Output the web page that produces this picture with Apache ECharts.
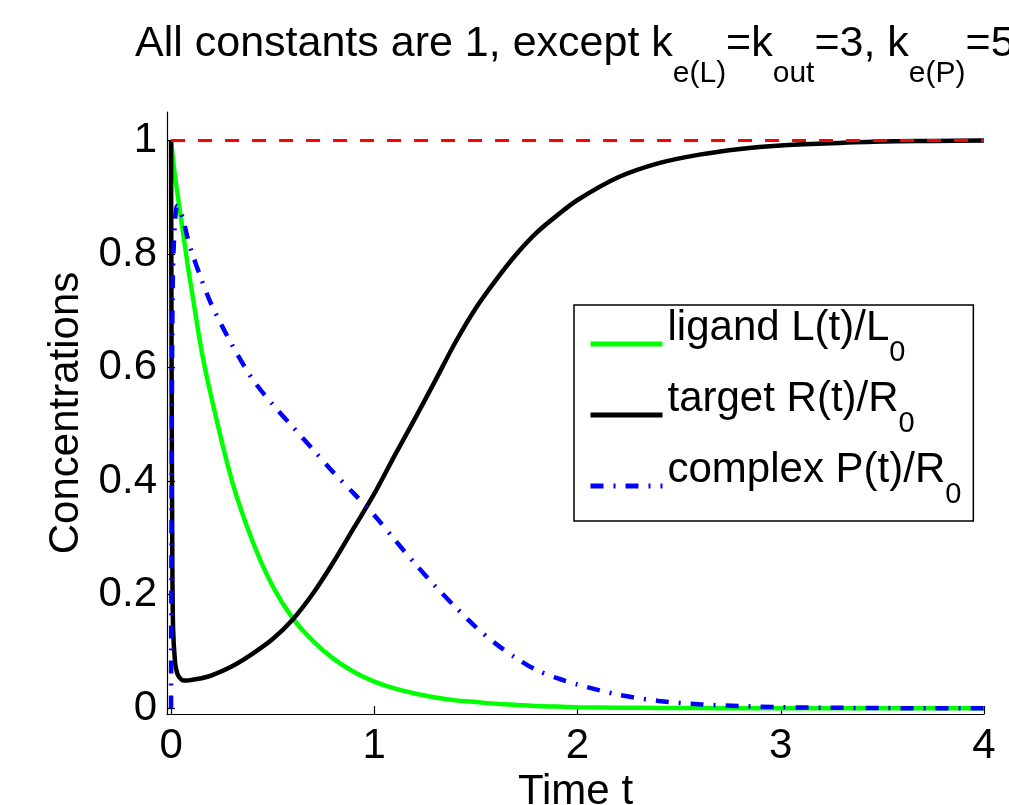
<!DOCTYPE html>
<html>
<head>
<meta charset="utf-8">
<script src="https://cdn.jsdelivr.net/npm/echarts@6/dist/echarts.min.js"></script>
<style>
  html, body { margin: 0; padding: 0; background: #fff; }
  #main { width: 1009px; height: 805px; }
</style>
</head>
<body>
<div id="main"></div>
<script>
// time points and curves
var tVals = [0, 0.003, 0.006, 0.01, 0.02, 0.03, 0.04, 0.06, 0.08, 0.1,
             0.15, 0.2, 0.3, 0.4, 0.5, 0.6, 0.7, 0.8, 0.9, 1.0,
             1.1, 1.2, 1.3, 1.4, 1.5, 1.6, 1.7, 1.8, 1.9, 2.0,
             2.2, 2.4, 2.6, 2.8, 3.0, 3.25, 3.5, 3.75, 4.0];
var ligand = [1, 0.99, 0.98, 0.965, 0.935, 0.91, 0.885, 0.835, 0.785, 0.74,
              0.63, 0.545, 0.40, 0.295, 0.215, 0.158, 0.118, 0.087, 0.064, 0.047,
              0.035, 0.026, 0.019, 0.014, 0.011, 0.008, 0.006, 0.004, 0.003, 0.002,
              0.001, 0.0007, 0.0004, 0.0002, 0.0001, 0, 0, 0, 0];
var target = [1, 0.55, 0.28, 0.14, 0.08, 0.062, 0.055, 0.049, 0.049, 0.05,
              0.053, 0.058, 0.074, 0.096, 0.122, 0.157, 0.203, 0.258, 0.318, 0.378,
              0.445, 0.51, 0.577, 0.645, 0.705, 0.755, 0.8, 0.838, 0.868, 0.895,
              0.935, 0.96, 0.975, 0.985, 0.991, 0.995, 0.998, 0.999, 1.0];
var complex = [0, 0.42, 0.66, 0.78, 0.86, 0.885, 0.88, 0.86, 0.83, 0.805,
               0.755, 0.71, 0.64, 0.58, 0.535, 0.495, 0.455, 0.415, 0.378, 0.34,
               0.297, 0.255, 0.215, 0.178, 0.143, 0.113, 0.088, 0.067, 0.053, 0.042,
               0.024, 0.013, 0.007, 0.004, 0.002, 0.001, 0.0005, 0, 0];
// dashed reference line at 1
var refT = [0, 4];
var refV = [1, 1];

var xTicks = [0, 1, 2, 3, 4];
var yTicks = [0, 0.2, 0.4, 0.6, 0.8, 1];

var legendNames = ['ligand', 'target', 'complex'];
var legendLabels = {
    ligand: '{m|ligand L(t)/L}{s|0}',
    target: '{m|target R(t)/R}{s|0}',
    complex: '{m|complex P(t)/R}{s|0}'
};

function pairs(xs, ys) {
    var out = [];
    for (var i = 0; i < xs.length; i++) out.push([xs[i], ys[i]]);
    return out;
}

var FONT = 'Liberation Sans';
// subscripts: both parts top-aligned, the small one pushed down with padding
var legendRich = {
    m: { fontSize: 42, fontFamily: FONT, fontWeight: 'normal', color: '#000', lineHeight: 74, verticalAlign: 'top' },
    s: { fontSize: 29, fontFamily: FONT, fontWeight: 'normal', color: '#000', lineHeight: 74, padding: [31, 0, 0, 0], verticalAlign: 'top' }
};
var titleRich = {
    m: { fontSize: 43, fontFamily: FONT, fontWeight: 'normal', color: '#000', lineHeight: 70, verticalAlign: 'top' },
    s: { fontSize: 30, fontFamily: FONT, fontWeight: 'normal', color: '#000', lineHeight: 70, padding: [36, 0, 0, 0], verticalAlign: 'top' }
};

var myChart = echarts.init(document.getElementById('main'));

var lineCommon = {
    type: 'line',
    symbol: 'none',
    smooth: 0.3
};

var option = {
    animation: false,
    backgroundColor: '#fff',
    textStyle: { fontFamily: FONT },
    title: {
        left: 135,
        top: 23,
        padding: 0,
        text: '{m|All constants are 1, except k}{s|e(L)}{m|=k}{s|out}{m|=3, k}{s|e(P)}{m|=5}',
        textStyle: { fontWeight: 'normal', rich: titleRich }
    },
    grid: {
        left: 167,
        right: 25,
        top: 112,
        bottom: 91,
        outerBoundsMode: 'none'
    },
    legend: {
        orient: 'vertical',
        left: 574,
        top: 305,
        padding: [2, 12, 12, 14],
        itemWidth: 72,
        itemHeight: 20,
        itemGap: 11,
        selectedMode: false,
        backgroundColor: '#fff',
        borderColor: '#000',
        borderWidth: 1.5,
        borderRadius: 0,
        itemStyle: { opacity: 0 },
        lineStyle: { width: 5 },
        data: legendNames,
        formatter: function (name) { return legendLabels[name]; },
        textStyle: { fontWeight: 'normal', rich: legendRich }
    },
    xAxis: {
        type: 'value',
        min: -0.02,
        max: 4,
        name: 'Time t',
        nameLocation: 'middle',
        nameGap: 47,
        nameTextStyle: { fontSize: 42, color: '#000', fontFamily: FONT },
        axisLine: { onZero: false, lineStyle: { color: '#000', width: 1.2 } },
        axisTick: { inside: true, length: 8, customValues: xTicks, lineStyle: { color: '#000', width: 1.2 } },
        axisLabel: { customValues: xTicks, margin: 11, fontSize: 42, color: '#000', fontFamily: FONT },
        splitLine: { show: false }
    },
    yAxis: {
        type: 'value',
        min: -0.01,
        max: 1.05,
        name: 'Concentrations',
        nameLocation: 'middle',
        nameRotate: 90,
        nameGap: 80,
        nameTextStyle: { fontSize: 42, color: '#000', fontFamily: FONT },
        axisLine: { show: true, onZero: false, lineStyle: { color: '#000', width: 1.2 } },
        axisTick: { show: true, inside: true, length: 8, customValues: yTicks, lineStyle: { color: '#000', width: 1.2 } },
        axisLabel: { customValues: yTicks, margin: 10, fontSize: 42, color: '#000', fontFamily: FONT },
        splitLine: { show: false }
    },
    series: [
        Object.assign({}, lineCommon, {
            name: 'ligand',
            data: pairs(tVals, ligand),
            lineStyle: { color: '#00ff00', width: 4.5 },
            itemStyle: { color: '#00ff00' }
        }),
        Object.assign({}, lineCommon, {
            name: 'target',
            data: pairs(tVals, target),
            lineStyle: { color: '#000000', width: 4.5 },
            itemStyle: { color: '#000000' }
        }),
        Object.assign({}, lineCommon, {
            name: 'complex',
            data: pairs(tVals, complex),
            lineStyle: { color: '#0000ff', width: 4.5, type: [13, 10, 2, 10] },
            itemStyle: { color: '#0000ff' }
        }),
        {
            name: 'reference',
            type: 'line',
            symbol: 'none',
            data: pairs(refT, refV),
            lineStyle: { color: '#ff0000', width: 3, type: [14, 13] },
            itemStyle: { color: '#ff0000' }
        }
    ]
};

myChart.setOption(option);
</script>
</body>
</html>
